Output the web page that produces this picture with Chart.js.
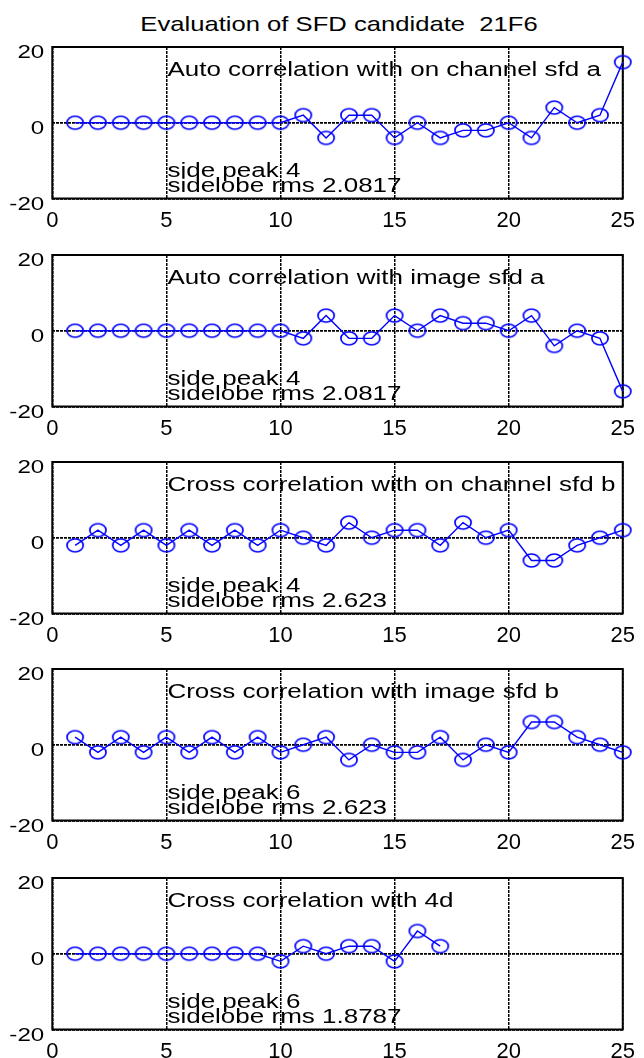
<!DOCTYPE html>
<html lang="en">

<head>
    <meta charset="UTF-8">
    <title>Evaluation of SFD candidate 21F6</title>
    <script src="https://cdn.jsdelivr.net/npm/chart.js"></script>
    <style>
        html, body {
            margin: 0;
            padding: 0;
            background: #fff;
            overflow: hidden;
        }

        #page {
            position: relative;
            width: 644px;
            height: 1058px;
        }

        #fig-title {
            position: absolute;
            left: 52px;
            top: 13px;
            width: 574px;
            text-align: center;
            font-family: "Liberation Sans", Arial, sans-serif;
            font-size: 21px;
            line-height: 21px;
            color: #000;
            white-space: pre;
            transform: scaleX(1.22);
            transform-origin: 50% 0;
        }

        canvas {
            position: absolute;
            left: 0;
        }
    </style>
</head>

<body>
    <div id="page">
        <div id="fig-title">Evaluation of SFD candidate  21F6</div>
    </div>

    <script>
        // lag index on the x axis
        const lags = [1, 2, 3, 4, 5, 6, 7, 8, 9, 10, 11, 12, 13, 14, 15, 16, 17, 18, 19, 20, 21, 22, 23, 24, 25];

        // correlation values per panel
        const autoOnChannelA = [0, 0, 0, 0, 0, 0, 0, 0, 0, 0, 2, -4, 2, 2, -4, 0, -4, -2, -2, 0, -4, 4, 0, 2, 16];
        const autoImageA = [0, 0, 0, 0, 0, 0, 0, 0, 0, 0, -2, 4, -2, -2, 4, 0, 4, 2, 2, 0, 4, -4, 0, -2, -16];
        const crossOnChannelB = [-2, 2, -2, 2, -2, 2, -2, 2, -2, 2, 0, -2, 4, 0, 2, 2, -2, 4, 0, 2, -6, -6, -2, 0, 2];
        const crossImageB = [2, -2, 2, -2, 2, -2, 2, -2, 2, -2, 0, 2, -4, 0, -2, -2, 2, -4, 0, -2, 6, 6, 2, 0, -2];
        const cross4d = [0, 0, 0, 0, 0, 0, 0, 0, 0, -2, 2, 0, 2, 2, -2, 6, 2];

        const panelLabels = [
            'Auto correlation with on channel sfd a',
            'Auto correlation with image sfd a',
            'Cross correlation with on channel sfd b',
            'Cross correlation with image sfd b',
            'Cross correlation with 4d'
        ];
        const sidePeaks = ['side peak 4', 'side peak 4', 'side peak 4', 'side peak 6', 'side peak 6'];
        const sidelobeRms = ['sidelobe rms 2.0817', 'sidelobe rms 2.0817', 'sidelobe rms 2.623', 'sidelobe rms 2.623', 'sidelobe rms 1.8787'];

        const xTicks = [0, 5, 10, 15, 20, 25];
        const yTicks = [-20, 0, 20];

        const series = [autoOnChannelA, autoImageA, crossOnChannelB, crossImageB, cross4d];
        const plotTops = [47, 255, 462, 669, 878];

        const blue = '#0000ff';
        const font = '"Liberation Sans", Arial, sans-serif';
        const padTop = 10;
        const plotHeight = 151.5;
        const canvasHeight = 200;
        const stretch = 1.3;

        // open ellipse marker (the axes are stretched horizontally)
        function makeMarker() {
            const c = document.createElement('canvas');
            c.width = 20;
            c.height = 17;
            const g = c.getContext('2d');
            g.strokeStyle = blue;
            g.lineWidth = 1.7;
            g.beginPath();
            g.ellipse(10, 8.5, 8.1, 6.5, 0, 0, Math.PI * 2);
            g.stroke();
            return c;
        }
        const marker = makeMarker();

        // draws text squeezed the same way as the rest of the figure
        function wideText(ctx, text, x, y, align) {
            ctx.save();
            ctx.translate(x, y);
            ctx.scale(stretch, 1);
            ctx.textAlign = align;
            ctx.fillText(text, 0, 0);
            ctx.restore();
        }

        // black box around the axes
        const boxPlugin = {
            id: 'box',
            beforeDatasetsDraw(chart) {
                const { ctx, chartArea: a } = chart;
                ctx.save();
                ctx.strokeStyle = '#000';
                ctx.lineWidth = 2;
                ctx.strokeRect(a.left, a.top, a.right - a.left, a.bottom - a.top);
                ctx.restore();
            }
        };

        // y tick labels, panel caption and statistics
        const notesPlugin = {
            id: 'notes',
            afterDatasetsDraw(chart, args, opts) {
                const { ctx, scales, chartArea } = chart;
                ctx.save();
                ctx.fillStyle = '#000';
                ctx.textBaseline = 'alphabetic';

                ctx.font = '18.6px ' + font;
                scales.y.ticks.forEach(t => {
                    const py = scales.y.getPixelForValue(t.value);
                    wideText(ctx, String(t.value), chartArea.left - 8, py + 11, 'right');
                });

                const x = scales.x.getPixelForValue(5) + 1;
                ctx.font = '20px ' + font;
                wideText(ctx, opts.label, x, scales.y.getPixelForValue(12.4), 'left');
                wideText(ctx, opts.peak, x, scales.y.getPixelForValue(-14.2), 'left');
                wideText(ctx, opts.rms, x, scales.y.getPixelForValue(-18.4), 'left');
                ctx.restore();
            }
        };

        const page = document.getElementById('page');

        series.forEach((values, i) => {
            const canvas = document.createElement('canvas');
            canvas.width = 644;
            canvas.height = canvasHeight;
            canvas.style.top = (plotTops[i] - padTop) + 'px';
            page.appendChild(canvas);

            const points = values.map((v, k) => ({ x: lags[k], y: v }));

            new Chart(canvas.getContext('2d'), {
                type: 'line',
                data: {
                    datasets: [{
                        data: points,
                        borderColor: blue,
                        borderWidth: 1.4,
                        backgroundColor: 'transparent',
                        pointStyle: marker,
                        pointRadius: 7,
                        tension: 0,
                        clip: false
                    }]
                },
                options: {
                    responsive: false,
                    animation: false,
                    events: [],
                    layout: {
                        padding: { top: padTop, right: 18, left: 0, bottom: 0 }
                    },
                    plugins: {
                        legend: { display: false },
                        tooltip: { enabled: false },
                        notes: {
                            label: panelLabels[i],
                            peak: sidePeaks[i],
                            rms: sidelobeRms[i]
                        }
                    },
                    scales: {
                        x: {
                            type: 'linear',
                            min: 0,
                            max: 25,
                            afterBuildTicks: scale => {
                                scale.ticks = xTicks.map(v => ({ value: v }));
                            },
                            afterFit: scale => {
                                scale.height = canvasHeight - padTop - plotHeight;
                            },
                            grid: {
                                color: '#000',
                                lineWidth: 1.5,
                                drawTicks: false
                            },
                            border: { display: false, dash: [3, 1] },
                            ticks: {
                                color: '#000',
                                padding: 9,
                                maxRotation: 0,
                                autoSkip: false,
                                font: { family: font, size: 22 }
                            }
                        },
                        y: {
                            min: -20,
                            max: 20,
                            afterBuildTicks: scale => {
                                scale.ticks = yTicks.map(v => ({ value: v }));
                            },
                            afterFit: scale => {
                                scale.width = 52.3;
                            },
                            grid: {
                                color: '#000',
                                lineWidth: 1.8,
                                drawTicks: false
                            },
                            border: { display: false, dash: [3, 1] },
                            ticks: { display: false }
                        }
                    }
                },
                plugins: [boxPlugin, notesPlugin]
            });
        });
    </script>
</body>

</html>
